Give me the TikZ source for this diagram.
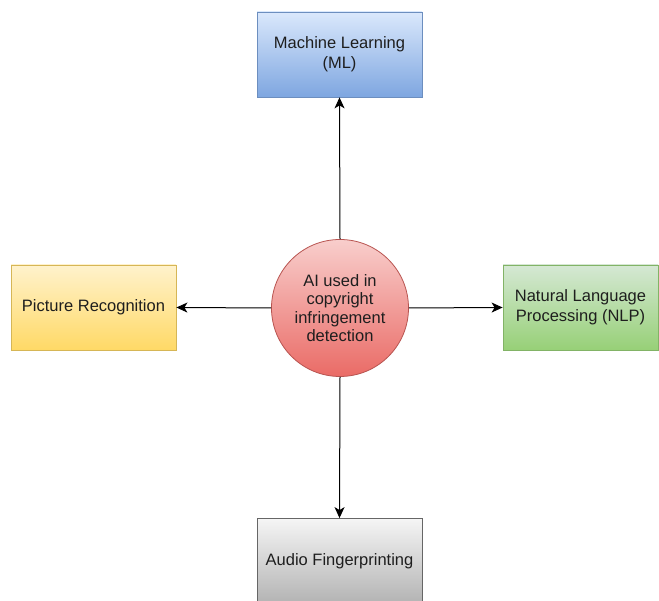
\documentclass[tikz,border=0pt]{standalone}
\usepackage{fontspec}
\setmainfont{Liberation Sans}
\usetikzlibrary{arrows.meta,shapes.geometric}
\definecolor{txt}{HTML}{1E1E1E}
\definecolor{bT}{HTML}{DAE8FC}\definecolor{bB}{HTML}{7EA6E0}\definecolor{bD}{HTML}{6C8EBF}
\definecolor{yT}{HTML}{FFF2CC}\definecolor{yB}{HTML}{FFD966}\definecolor{yD}{HTML}{D6B656}
\definecolor{gT}{HTML}{D5E8D4}\definecolor{gB}{HTML}{97D077}\definecolor{gD}{HTML}{82B366}
\definecolor{sT}{HTML}{F5F5F5}\definecolor{sB}{HTML}{B3B3B3}\definecolor{sD}{HTML}{666666}
\definecolor{rT}{HTML}{F8CECC}\definecolor{rB}{HTML}{EA6B66}\definecolor{rD}{HTML}{B85450}
\tikzset{
  box/.style={draw, line width=0.8pt, minimum width=165pt, minimum height=85pt, align=center,
    font=\fontsize{16.5}{20}\selectfont, text=txt, inner sep=2pt},
  conn/.style={line width=1pt, -{Stealth[length=11pt,width=10pt,inset=3pt]}}
}
\begin{document}
\begin{tikzpicture}[x=1pt,y=1pt]
\useasboundingbox (0,0) rectangle (659,601);
\fill[white] (0,0) rectangle (659,601);
\node[box, draw=bD, top color=bT, bottom color=bB] (ml) at (339.5,546.5) {Machine Learning\\(ML)};
\node[box, draw=yD, top color=yT, bottom color=yB] (pr) at (93.5,293.5) {Picture Recognition};
\node[box, draw=gD, top color=gT, bottom color=gB, minimum width=155pt] (nlp) at (580.5,293.5) {Natural Language\\Processing (NLP)};
\node[box, draw=sD, top color=sT, bottom color=sB] (af) at (339.5,40) {Audio Fingerprinting};
\node[circle, draw=rD, line width=0.8pt, top color=rT, bottom color=rB, minimum size=137pt, align=center,
  font=\fontsize{16.5}{18.5}\selectfont, text=txt, inner sep=0pt] (ai) at (340,293) {AI used in\\copyright\\infringement\\detection};
\draw[conn] (ai.north) -- (ml.south);
\draw[conn] (ai.west) -- (pr.east);
\draw[conn] (ai.east) -- (nlp.west);
\draw[conn] (ai.south) -- (af.north);
\end{tikzpicture}
\end{document}
